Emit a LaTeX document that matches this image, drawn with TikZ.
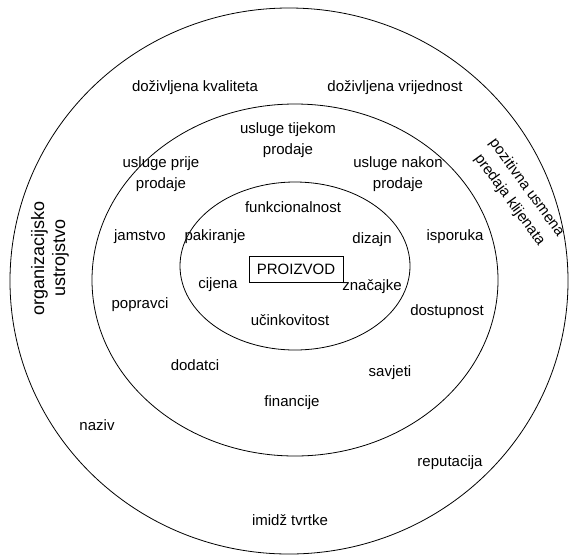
\documentclass[tikz,border=0pt]{standalone}
\usepackage{fontspec}
\setmainfont{Liberation Sans}
\usetikzlibrary{positioning}

\begin{document}
\begin{tikzpicture}[x=1pt,y=-1pt,line width=0.8pt,ring/.style={draw=black},lbl/.style={inner sep=1pt,align=center,font=\fontsize{15}{21}\selectfont},side/.style={lbl,font=\fontsize{18}{21}\selectfont},prod/.style={lbl,draw,minimum width=94pt,minimum height=26pt,line width=0.8pt}]
    \useasboundingbox (0,0) rectangle (569,555);
    % three rings
    \draw[ring] (289,281) ellipse [x radius=279pt,y radius=273pt];
    \draw[ring] (295,280) ellipse [x radius=203pt,y radius=176pt];
    \draw[ring] (295,266) ellipse [x radius=115pt,y radius=84pt];
    % core
    \node[prod] (proizvod) at (296,269) {PROIZVOD};
    \node[lbl] (funkc) at (293,207) {funkcionalnost};
    \node[lbl] (pakir) at (215,237) {pakiranje};
    \node[lbl] (dizajn) at (372,240) {dizajn};
    \node[lbl] (cijena) at (218,285) {cijena};
    \node[lbl] (znac) at (372,287) {značajke};
    \node[lbl] (ucink) at (290,320) {učinkovitost};
    % middle ring
    \node[lbl] (tijekom) at (288,140) {usluge tijekom\\prodaje};
    \node[lbl] (prije) at (161,174) {usluge prije\\prodaje};
    \node[lbl] (nakon) at (398,174) {usluge nakon\\prodaje};
    \node[lbl] (jamstvo) at (140,237) {jamstvo};
    \node[lbl] (isporuka) at (455,237) {isporuka};
    \node[lbl] (popravci) at (140,305) {popravci};
    \node[lbl] (dostup) at (447,312) {dostupnost};
    \node[lbl] (dodatci) at (195,365) {dodatci};
    \node[lbl] (savjeti) at (390,373) {savjeti};
    \node[lbl] (financ) at (292,403) {financije};
    % outer ring
    \node[lbl] (kval) at (195,88) {doživljena kvaliteta};
    \node[lbl] (vrij) at (395,88) {doživljena vrijednost};
    \node[side,rotate=90] (org) at (50,258) {organizacijsko\\ustrojstvo};
    \node[lbl,rotate=-54] (predaja) at (518,194) {pozitivna usmena\\predaja klijenata};
    \node[lbl] (naziv) at (97,425) {naziv};
    \node[lbl] (reput) at (450,463) {reputacija};
    \node[lbl] (imidz) at (290,520) {imidž tvrtke};
\end{tikzpicture}
\end{document}
